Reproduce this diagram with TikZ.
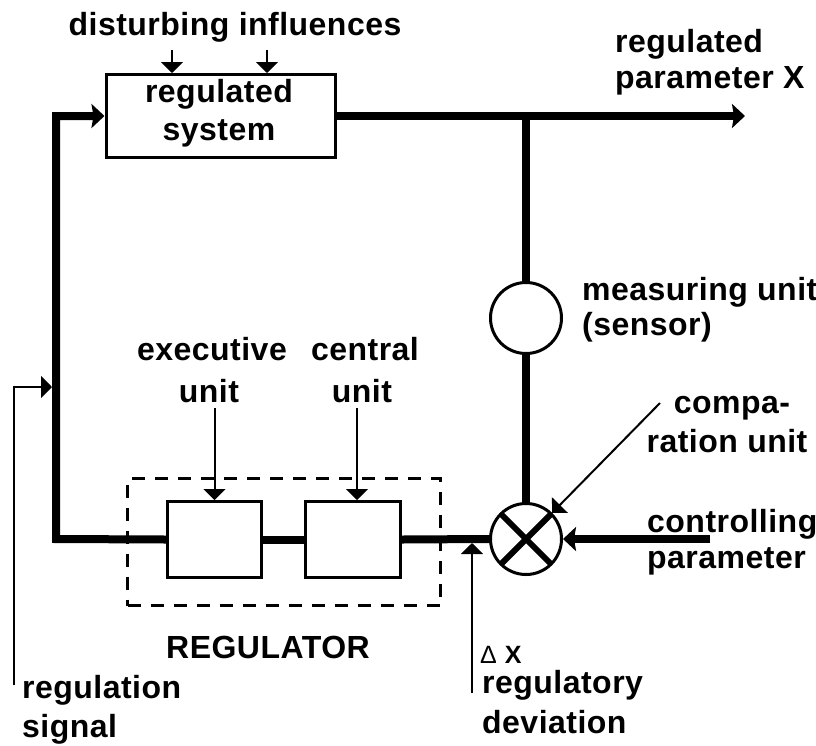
\documentclass[tikz,border=0pt]{standalone}
\usepackage{fontspec}
\setmainfont{Liberation Sans}[LetterSpace=1.5]
\usetikzlibrary{arrows.meta}
\begin{document}
\begin{tikzpicture}[x=1pt,y=-1pt,
  lbl/.style={inner sep=0pt, font=\fontsize{32}{37}\selectfont\bfseries},
  smalllbl/.style={inner sep=0pt, font=\fontsize{25}{28}\selectfont},
  bigline/.style={line width=8pt},
  thinline/.style={line width=2pt},
  box/.style={draw, line width=3pt, rectangle, inner sep=0pt},
  ring/.style={draw, line width=3pt, circle, inner sep=0pt, minimum size=71pt},
  bigtip/.style={-{Stealth[length=13pt,width=24pt,inset=2pt]}},
  smalltip/.style={-{Triangle[length=11pt,width=22pt]}}
  ]
\useasboundingbox (0,0) rectangle (816,745);

% blocks
\node[box, minimum width=229pt, minimum height=83pt] (sys) at (220.5,116) {};
\node[box, minimum width=94pt, minimum height=76pt] (exe) at (214.5,539.5) {};
\node[box, minimum width=95pt, minimum height=76pt] (cen) at (353,539.5) {};
\node[draw, line width=3pt, dash pattern=on 13pt off 10pt, inner sep=0pt,
      minimum width=313pt, minimum height=127pt] (reg) at (284,542) {};
\node[ring] (meas) at (526,318) {};
\node[ring] (comp) at (526,539) {};
\draw[line width=6pt] (comp.center) +(135:35) -- +(-45:35);
\draw[line width=6pt] (comp.center) +(45:35) -- +(225:35);

% coordinates
\coordinate (xout) at (745,116);
\coordinate (jn) at (526,116);
\coordinate (cl) at (56,116);
\coordinate (cb) at (56,539);
\coordinate (ctrl) at (710,539);
\coordinate (d1) at (172,50);
\coordinate (d2) at (267,50);
\coordinate (e1) at (214.5,408);
\coordinate (c1) at (357,408);
\coordinate (s0) at (14,685);
\coordinate (s1) at (14,387);
\coordinate (s2) at (52,387);
\coordinate (v0) at (472,693);
\coordinate (v1) at (472,543);
\coordinate (k0) at (660,403);

% thick connectors
\draw[bigline, bigtip] (sys.east) -- (xout);
\draw[bigline] (jn) -- (meas.north);
\draw[bigline] (meas.south) -- (comp.north);
\draw[bigline, bigtip] (exe.west) -- (cb) -- (cl) -- (sys.west);
\draw[bigline] (exe.east) -- (cen.west);
\draw[bigline] (cen.east) -- (comp.west);
\draw[bigline, bigtip] (ctrl) -- (comp.east);

% thin connectors
\draw[thinline, smalltip] (d1) -- (d1 |- sys.north);
\draw[thinline, smalltip] (d2) -- (d2 |- sys.north);
\draw[thinline, smalltip] (e1) -- (exe.north);
\draw[thinline, smalltip] (c1) -- (c1 |- cen.north);
\draw[thinline, smalltip] (s0) -- (s1) -- (s2);
\draw[thinline, smalltip] (v0) -- (v1);
\draw[thinline, smalltip] (k0) -- (comp.north east);

% labels
\node[lbl, anchor=base] (tdist) at (235,35) {disturbing influences};
\node[lbl, anchor=base] (tsys1) at (219,102) {regulated};
\node[lbl, anchor=base] (tsys2) at (219,140) {system};
\node[lbl, anchor=base west] (trp1) at (615,52) {regulated};
\node[lbl, anchor=base west] (trp2) at (615,88) {parameter X};
\node[lbl, anchor=base west] (tmeas1) at (582,300) {measuring unit};
\node[lbl, anchor=base west] (tmeas2) at (582,335) {(sensor)};
\node[lbl, anchor=base] (texe1) at (212,360) {executive};
\node[lbl, anchor=base] (texe2) at (209,402) {unit};
\node[lbl, anchor=base] (tcen1) at (365,360) {central};
\node[lbl, anchor=base] (tcen2) at (362,402) {unit};
\node[lbl, anchor=base] (tcomp1) at (732,413) {compa-};
\node[lbl, anchor=base] (tcomp2) at (727,452) {ration unit};
\node[lbl, anchor=base west] (tctrl1) at (647,532) {controlling};
\node[lbl, anchor=base west] (tctrl2) at (647,568) {parameter};
\node[lbl, anchor=base] (treg) at (268,658) {REGULATOR};
\node[lbl, anchor=base west] (tsig1) at (22,698) {regulation};
\node[lbl, anchor=base west] (tsig2) at (22,737) {signal};
\node[smalllbl, anchor=base west] (tdx) at (480,663) {Δ\hspace{8pt}\bfseries X};
\node[lbl, anchor=base west] (tdev1) at (482,693) {regulatory};
\node[lbl, anchor=base west] (tdev2) at (482,733) {deviation};
\end{tikzpicture}
\end{document}
